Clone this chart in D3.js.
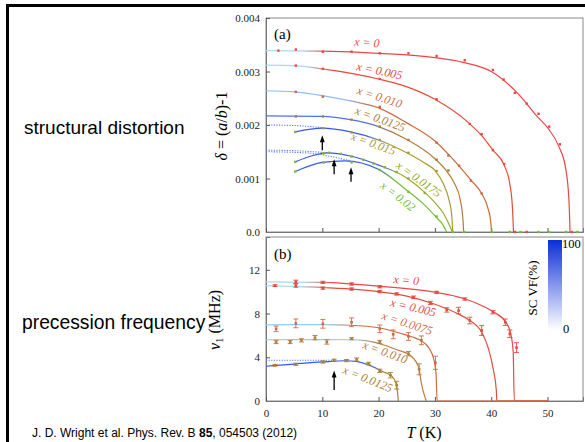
<!DOCTYPE html>
<html><head><meta charset="utf-8">
<script src="https://cdn.jsdelivr.net/npm/d3@7"></script>
<style>body{margin:0;background:#fff} svg{display:block}</style>
</head><body><svg id="c" width="585" height="442"></svg>
<script>
// ---------- DATA ----------
// Panel (a): delta = (a/b)-1, values in units of 0.001
const seriesA = ["0","0.005","0.010","0.0125","0.015","0.0175","0.02"];
const colorsA = ["#ee4545","#e24c3c","#c96a3c","#b07c3a","#a89b2e","#92ab30","#72be38"];
const blueColA = ["#a9d9ef","#a9d9ef","#8cbcf0","#4f70f0","#3558ee","#3558ee","#3558ee"];
const blueEndA = [8, 9, 16, 20, 19, 21, 20];
const yTicksA = [0, 1, 2, 3, 4];
const yTickLabelsA = ["0.0", "0.001", "0.002", "0.003", "0.004"];
const xTicks = [0, 10, 20, 30, 40, 50];

const pointsA = [
  [[2.2,3.39],[5.3,3.41],[10.1,3.37],[15.2,3.37],[20.2,3.34],[25.3,3.34],[30.3,3.29],[35.3,3.21],[40.3,3.03],[42.2,2.85],[44.2,2.60],[46.3,2.40],[48.4,2.21],[50.3,1.97],[52.2,1.64],[54.3,0]],
  [[5.3,3.11],[10.1,3.05],[20.2,2.86],[30.3,2.48],[36.2,2.02],[38.3,1.83],[40.3,1.53],[42.3,1.27],[44.2,0],[46.3,0]],
  [[5.3,2.62],[10.1,2.53],[20.2,2.34],[30.3,1.67],[32.4,1.43],[34.3,1.24],[36.4,0.96],[38.3,0.72]],
  [[5.3,2.16],[10.1,2.16],[15.2,2.10],[20.2,1.97],[25.3,1.72],[30.3,1.35],[32.4,1.15]],
  [[5.2,1.87],[10.2,1.94],[15.2,1.86],[20.2,1.72],[25.3,1.48],[30.3,1.14]],
  [[5.2,1.31],[10.2,1.47],[11.2,1.48],[13.3,1.46],[15.2,1.41],[17.3,1.35],[19.1,1.28],[21.1,1.21],[23.2,1.12],[25.3,1.00],[28.2,0.73]],
  [[5.2,1.13],[10.2,1.30],[15.2,1.30],[20.2,1.16],[25.3,0.75],[30.3,0.29],[33.2,0],[35.2,0],[40.1,0],[43.3,0],[45.2,0],[48.4,0],[50.3,0],[53.3,0],[55.3,0]]
];
const fitsA = [
  [[0,3.39],[10,3.38],[20,3.34],[30,3.26],[35,3.17],[40,3.0],[45,2.56],[48,2.18],[50,1.95],[52,1.6],[53.2,1.2],[53.8,0.6],[54.0,0]],
  [[0,3.12],[5,3.11],[10,3.05],[20,2.86],[24,2.75],[30,2.48],[36,2.04],[38.3,1.8],[40.3,1.53],[42.3,1.25],[43.3,0.9],[43.8,0.4],[43.95,0]],
  [[0,2.64],[5,2.62],[10,2.55],[15,2.45],[20,2.32],[25,2.04],[30,1.70],[32.4,1.45],[34.3,1.23],[36.4,0.97],[38.3,0.72],[39.4,0.45],[39.9,0.2],[40.05,0]],
  [[0,2.17],[10,2.16],[15,2.10],[20,1.97],[25,1.73],[30,1.37],[32,1.15],[33.5,0.9],[34.5,0.6],[35.0,0.2],[35.1,0]],
  [[5.2,1.87],[10,1.94],[15,1.87],[20,1.72],[25,1.48],[28,1.3],[30,1.15],[31.5,0.9],[32.5,0.6],[33,0.3],[33.15,0]],
  [[5.2,1.31],[8,1.42],[11,1.48],[15,1.42],[20,1.25],[25,1.01],[28,0.76],[30,0.55],[31.5,0.35],[32.6,0.12],[33.1,0]],
  [[5.2,1.13],[10,1.30],[14,1.33],[20,1.17],[25,0.78],[28,0.52],[30,0.30],[31.5,0.12],[32.1,0]]
];
const dottedA = [
  [[0,2.00],[5,1.99],[10,1.95]],
  [[0,1.53],[5,1.52],[11,1.48]],
  [[0,1.50],[7,1.48],[12,1.40],[15,1.33]]
];

// Panel (b): nu_1 (MHz)
const seriesB = ["0","0.005","0.0075","0.010","0.0125"];
const colorsB = ["#ee4545","#e24c3c","#cf6a44","#b87a3e","#a8832e"];
const blueColB = ["#a9d9ef","#a9d9ef","#8fcdf0","#8fcdf0","#3558ee"];
const blueEndB = [9, 8, 13, 17, 19];
const yTicksB = [0, 4, 8, 12];
const pointsB = [ // [T, nu, err]
  [[5.3,10.9,0.15],[10.1,10.85,0.1],[15.2,10.7,0.1],[20.2,10.45,0.1],[30.3,9.94,0.1],[35.3,9.33,0.1],[40.3,8.12,0.15],[42.5,7.2,0.3],[43.3,6.15,0.35],[44.5,4.88,0.45]],
  [[1.6,10.55,0.08],[5.3,10.55,0.15],[10.1,10.33,0.1],[15.2,10.24,0.1],[20.2,10.0,0.1],[23.2,9.79,0.1],[26.2,9.48,0.12],[29.2,8.97,0.15],[32.1,8.33,0.2],[34.2,8.27,0.3],[36.2,7.36,0.3],[38.3,6.45,0.45]],
  [[1.8,6.6,0.25],[5.3,7.1,0.4],[10.1,7.06,0.4],[15.2,7.2,0.4],[20.2,6.6,0.35],[22.6,6.1,0.4],[25.3,5.9,0.35],[27.6,5.55,0.4],[30.1,3.5,0.6]],
  [[1.8,5.4,0.15],[4.3,5.4,0.15],[6.3,5.55,0.15],[8.7,5.79,0.2],[10.8,5.4,0.2],[15.2,5.7,0.1],[20.2,5.4,0.15],[25.3,4.33,0.2],[27.2,2.9,0.5]],
  [[1.6,3.27,0.08],[5.3,3.36,0.1],[10.1,3.57,0.1],[12.1,3.73,0.1],[14.3,3.7,0.1],[16.1,3.79,0.15],[18.2,3.42,0.12],[20.2,2.76,0.15],[22.1,2.36,0.25],[23.2,1.45,0.35]]
];
const fitsB = [
  [[0,10.9],[10,10.85],[20,10.5],[30,9.95],[35,9.4],[38,8.8],[40.5,8.12],[42.6,7.2],[43.4,6.3],[43.9,4.5],[44.1,0],[50,0]],
  [[0,10.55],[10,10.38],[20,10.0],[25,9.6],[30,8.85],[34,8.0],[36.2,7.36],[38.3,6.3],[39.5,4.8],[40.4,2.8],[40.9,1],[41.0,0],[50,0]],
  [[0,6.97],[10,6.98],[15,6.93],[20,6.7],[23.8,6.2],[26,5.85],[27.6,5.5],[29,4.8],[29.8,3.8],[30.2,2.5],[30.4,0],[50,0]],
  [[0,5.6],[10,5.62],[15,5.6],[18,5.5],[20.2,5.24],[23.5,4.64],[25.6,4.18],[27.1,3.12],[27.6,1.6],[28.2,0.4],[28.5,0]],
  [[0,3.18],[5,3.38],[10,3.57],[14,3.68],[16,3.62],[18.2,3.3],[20.8,2.67],[22.3,2.3],[23.1,1.6],[23.4,0.6],[23.5,0]]
];
const dottedB = [[[0,3.73],[12,3.73]]];

// ---------- DRAW ----------
const svg = d3.select("#c");
const serif = "'Liberation Serif','DejaVu Serif',serif";
const sans = "'Liberation Sans',Arial,sans-serif";
const defs = svg.append("defs");

const x = d3.scaleLinear().domain([0, 56.3]).range([266, 583]);
const yA = d3.scaleLinear().domain([0, 4]).range([232, 18]);
const yB = d3.scaleLinear().domain([0, 15]).range([401, 237]);

// slide frame
svg.append("path").attr("d","M7.5,442 V5.5 H585").attr("fill","none").attr("stroke","#000").attr("stroke-width",3);

// left slide texts
svg.append("text").attr("x",24).attr("y",134).attr("font-family",sans).attr("font-size",19).text("structural distortion");
svg.append("text").attr("x",22).attr("y",329).attr("font-family",sans).attr("font-size",19.3).text("precession frequency");
const cite = svg.append("text").attr("x",32).attr("y",437).attr("font-family",sans).attr("font-size",12);
cite.append("tspan").text("J. D. Wright et al. Phys. Rev. B ");
cite.append("tspan").attr("font-weight","bold").text("85");
cite.append("tspan").text(", 054503 (2012)");

function panel(y, yTicks, yFmt, showX) {
  const g = svg.append("g");
  g.append("rect").attr("x",x.range()[0]).attr("y",y.range()[1]).attr("width",x.range()[1]-x.range()[0])
    .attr("height",y.range()[0]-y.range()[1]).attr("fill","none").attr("stroke","#8a8a8a").attr("stroke-width",1);
  const ax = g.append("g").attr("transform",`translate(${x.range()[0]},0)`)
    .call(d3.axisLeft(y).tickValues(yTicks).tickSize(-4).tickPadding(6).tickFormat(yFmt));
  const bx = g.append("g").attr("transform",`translate(0,${y.range()[0]})`)
    .call(d3.axisBottom(x).tickValues(xTicks).tickSize(-4).tickPadding(8).tickFormat(showX ? d3.format("d") : ""));
  [ax, bx].forEach(a => {
    a.select(".domain").attr("stroke","#777");
    a.selectAll(".tick line").attr("stroke","#555");
    a.selectAll("text").attr("font-family",serif).attr("font-size",11).attr("fill","#222");
  });
  return g;
}
panel(yA, yTicksA, (d,i) => yTickLabelsA[i], false);
panel(yB, yTicksB, d3.format("d"), true);

// panel labels
svg.append("text").attr("x",274).attr("y",39).attr("font-family",serif).attr("font-size",15).text("(a)");
svg.append("text").attr("x",274).attr("y",259).attr("font-family",serif).attr("font-size",15).text("(b)");

// axis titles
const ta = svg.append("text").attr("transform","translate(227,126) rotate(-90)").attr("text-anchor","middle")
  .attr("font-family",serif).attr("font-size",16);
ta.append("tspan").attr("font-style","italic").text("δ");
ta.append("tspan").text(" = (");
ta.append("tspan").attr("font-style","italic").text("a");
ta.append("tspan").text("/");
ta.append("tspan").attr("font-style","italic").text("b");
ta.append("tspan").text(")-1");
const tb = svg.append("text").attr("transform","translate(220,320) rotate(-90)").attr("text-anchor","middle")
  .attr("font-family",serif).attr("font-size",16);
tb.append("tspan").attr("font-style","italic").text("ν");
tb.append("tspan").attr("font-size",11).attr("dy",3).text("1");
tb.append("tspan").attr("dy",-3).text(" (MHz)");
const tx = svg.append("text").attr("x",424).attr("y",438).attr("text-anchor","middle").attr("font-family",serif).attr("font-size",16);
tx.append("tspan").attr("font-style","italic").text("T");
tx.append("tspan").text(" (K)");

// curves
const line = (y) => d3.line().x(d => x(d[0])).y(d => y(d[1])).curve(d3.curveMonotoneX);
function drawCurves(id, y, fits, colors, blues, blueEnd) {
  fits.forEach((f, i) => {
    const gid = `${id}g${i}`;
    const lg = defs.append("linearGradient").attr("id",gid).attr("gradientUnits","userSpaceOnUse")
      .attr("x1",x(blueEnd[i]-2)).attr("x2",x(blueEnd[i]+3)).attr("y1",0).attr("y2",0);
    lg.append("stop").attr("offset",0).attr("stop-color",blues[i]);
    lg.append("stop").attr("offset",1).attr("stop-color",colors[i]);
    svg.append("path").datum(f).attr("d",line(y)).attr("fill","none").attr("stroke",`url(#${gid})`).attr("stroke-width",1.2);
  });
}
drawCurves("a", yA, fitsA, colorsA, blueColA, blueEndA);
drawCurves("b", yB, fitsB, colorsB, blueColB, blueEndB);
[[dottedA, yA], [dottedB, yB]].forEach(([ds, y]) => ds.forEach(d => {
  svg.append("path").datum(d).attr("d",line(y)).attr("fill","none").attr("stroke","#5a78f0")
    .attr("stroke-width",1.1).attr("stroke-dasharray","1.2,1.4");
}));

// points (a)
pointsA.forEach((ps, i) => {
  svg.append("g").selectAll("rect").data(ps).join("rect")
    .attr("x", d => x(d[0]) - 1.2).attr("y", d => yA(d[1]) - 1.2).attr("width",2.4).attr("height",2.4)
    .attr("fill", colorsA[i]);
});
// points (b) with error bars
pointsB.forEach((ps, i) => {
  const g = svg.append("g").attr("stroke", colorsB[i]).attr("stroke-width",0.9);
  ps.forEach(d => {
    const cx = x(d[0]), y1 = yB(d[1]-d[2]), y2 = yB(d[1]+d[2]);
    g.append("line").attr("x1",cx).attr("x2",cx).attr("y1",y1).attr("y2",y2);
    g.append("line").attr("x1",cx-2.5).attr("x2",cx+2.5).attr("y1",y1).attr("y2",y1);
    g.append("line").attr("x1",cx-2.5).attr("x2",cx+2.5).attr("y1",y2).attr("y2",y2);
    g.append("rect").attr("x",cx-1.3).attr("y",yB(d[1])-1.3).attr("width",2.6).attr("height",2.6)
      .attr("fill",colorsB[i]).attr("stroke","none");
  });
});

// series labels
const labA = [[17.9,3.52,4],[20.1,2.99,12],[20.1,2.50,18],[20.2,2.09,20],[19.0,1.63,20],[27.0,0.97,36],[23.3,0.65,38]];
seriesA.forEach((s, i) => {
  svg.append("text").attr("transform",`translate(${x(labA[i][0])},${yA(labA[i][1])}) rotate(${labA[i][2]})`)
    .attr("text-anchor","middle").attr("dominant-baseline","middle").attr("font-family",serif).attr("font-size",12)
    .attr("font-style","italic").attr("fill",colorsA[i]).text(`x = ${s}`);
});
const labB = [[24.9,10.95,5],[26.1,8.45,13],[25.0,7.0,18],[21.1,4.36,20],[18.0,1.9,22]];
seriesB.forEach((s, i) => {
  svg.append("text").attr("transform",`translate(${x(labB[i][0])},${yB(labB[i][1])}) rotate(${labB[i][2]})`)
    .attr("text-anchor","middle").attr("dominant-baseline","middle").attr("font-family",serif).attr("font-size",12)
    .attr("font-style","italic").attr("fill",colorsB[i]).text(`x = ${s}`);
});

// arrows (pointing up)
const arrowsA = [[10, 1.53, 1.81], [12.1, 1.08, 1.36], [15.1, 0.94, 1.21]];
const arrowsB = [[12.1, 1.0, 2.8]];
[[arrowsA, yA], [arrowsB, yB]].forEach(([as, y]) => as.forEach(a => {
  const cx = x(a[0]), yb = y(a[1]), yt = y(a[2]);
  svg.append("line").attr("x1",cx).attr("x2",cx).attr("y1",yb).attr("y2",yt + 5)
    .attr("stroke","#000").attr("stroke-width",1.3);
  svg.append("path").attr("d",`M${cx-2.4},${yt+7} L${cx},${yt} L${cx+2.4},${yt+7} Z`).attr("fill","#000");
}));

// colorbar
const cb = defs.append("linearGradient").attr("id","cbg").attr("x1",0).attr("x2",0).attr("y1",0).attr("y2",1);
cb.append("stop").attr("offset",0).attr("stop-color","#0a2ed8");
cb.append("stop").attr("offset",1).attr("stop-color","#ffffff");
svg.append("rect").attr("x",548).attr("y",240).attr("width",14).attr("height",90).attr("fill","url(#cbg)");
svg.append("text").attr("x",562).attr("y",248).attr("font-family",serif).attr("font-size",12.5).text("100");
svg.append("text").attr("x",563).attr("y",333).attr("font-family",serif).attr("font-size",12.5).text("0");
svg.append("text").attr("transform","translate(537,288) rotate(-90)").attr("text-anchor","middle")
  .attr("font-family",serif).attr("font-size",13).text("SC VF(%)");
</script></body></html>
